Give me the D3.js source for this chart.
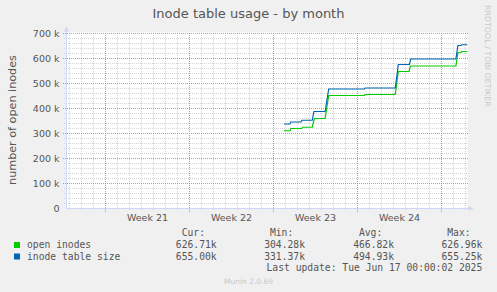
<!DOCTYPE html>
<html>
<head>
<meta charset="utf-8">
<style>
body { margin: 0; background: #f0f0f0; }
text { font-family: "DejaVu Sans", sans-serif; fill: #555; }
.mono { font-family: "DejaVu Sans Mono", monospace; font-size: 9.7px; }
.minor { stroke: #d6d6d6; stroke-dasharray: 1,1; }
.major { stroke: #ec5e5e; stroke-opacity: 0.75; stroke-dasharray: 1,1; }
</style>
</head>
<body>
<div id="vis"></div>
<script src="https://cdn.jsdelivr.net/npm/d3@7"></script>
<script>
// series: [day offset from left edge of graph, value in thousands]
var openInodes = [
  [18.12, 311], [18.62, 311], [18.70, 320], [19.60, 320], [19.68, 325],
  [20.48, 325], [20.65, 360], [21.55, 360], [21.85, 452], [24.83, 452],
  [24.88, 456], [27.40, 456], [27.65, 548], [28.55, 548], [28.65, 570],
  [32.45, 570], [32.62, 624], [32.88, 624], [32.93, 628], [33.40, 628]
];
var inodeTableSize = [
  [18.12, 338], [18.62, 338], [18.70, 346], [19.55, 346], [19.62, 353],
  [20.48, 353], [20.62, 388], [21.55, 388], [21.85, 478], [24.83, 478],
  [24.88, 482], [27.40, 482], [27.65, 576], [28.58, 576], [28.68, 598],
  [32.45, 598], [32.62, 652], [32.88, 652], [32.93, 655], [33.40, 655]
];
var weekNumbers = [21, 22, 23, 24];
var weekStarts = [3.25, 10.25, 17.25, 24.25, 31.25];
var yTicks = [0, 100, 200, 300, 400, 500, 600, 700];
var yTickLabels = ["0", "100 k", "200 k", "300 k", "400 k", "500 k", "600 k", "700 k"];
var seriesNames = ["open inodes", "inode table size"];
var seriesColors = ["#00cc00", "#0066b3"];
var curValues = ["626.71k", "655.00k"];
var minValues = ["304.28k", "331.37k"];
var avgValues = ["466.82k", "494.93k"];
var maxValues = ["626.96k", "655.25k"];

var width = 497, height = 292;

var svg = d3.select("#vis").append("svg")
    .attr("width", width)
    .attr("height", height);

svg.append("rect").attr("width", width).attr("height", height).attr("fill", "#f0f0f0");

var x = d3.scaleLinear().domain([0, 33.4167]).range([66.5, 467.5]);
var y = d3.scaleLinear().domain([0, 700]).range([208.5, 33.5]);
// pixel-centre helper so 1px dots sit on whole pixels
function px(v) { return Math.floor(v) + 0.5; }

// canvas
svg.append("rect")
    .attr("x", x(0)).attr("y", y(700) - 1)
    .attr("width", x(33.4167) - x(0)).attr("height", y(0) - y(700) + 1)
    .attr("fill", "#ffffff");

// minor grid (skip places where a major line goes)
var minorDays = d3.range(0.25, 33.4, 1).filter(function(d) { return (d - 3.25) % 7 !== 0; });
var minorY = d3.range(20, 701, 20).filter(function(d) { return d % 100 !== 0; });
svg.selectAll(".vminor").data(minorDays).enter().append("line")
    .attr("class", "minor")
    .attr("x1", function(d) { return px(x(d)); }).attr("x2", function(d) { return px(x(d)); })
    .attr("y1", 33).attr("y2", 211);
svg.selectAll(".hminor").data(minorY).enter().append("line")
    .attr("class", "minor")
    .attr("x1", 64).attr("x2", 468)
    .attr("y1", function(d) { return px(y(d)); }).attr("y2", function(d) { return px(y(d)); });

// major grid
svg.selectAll(".vmajor").data(weekStarts).enter().append("line")
    .attr("class", "major")
    .attr("x1", function(d) { return px(x(d)); }).attr("x2", function(d) { return px(x(d)); })
    .attr("y1", 33).attr("y2", 212);
svg.selectAll(".hmajor").data(yTicks.slice(1)).enter().append("line")
    .attr("class", "major")
    .attr("x1", 63).attr("x2", 468)
    .attr("y1", function(d) { return px(y(d)); }).attr("y2", function(d) { return px(y(d)); });

// axes
svg.append("line").attr("x1", x(0)).attr("x2", x(33.4167) + 1)
    .attr("y1", y(0)).attr("y2", y(0)).attr("stroke", "#cfd6f8");
svg.append("line").attr("x1", x(0)).attr("x2", x(0))
    .attr("y1", y(0)).attr("y2", y(700) - 3).attr("stroke", "#cfd6f8");
svg.append("path")
    .attr("d", "M" + (x(0) - 2.5) + "," + (y(700) - 2) + "L" + x(0) + "," + (y(700) - 7) + "L" + (x(0) + 2.5) + "," + (y(700) - 2) + "Z")
    .attr("fill", "#cfd6f8");
svg.append("path")
    .attr("d", "M" + (x(33.4167) + 1) + "," + (y(0) - 2.5) + "L" + (x(33.4167) + 6) + "," + y(0) + "L" + (x(33.4167) + 1) + "," + (y(0) + 2.5) + "Z")
    .attr("fill", "#cfd6f8");

// y tick labels
svg.selectAll(".ylab").data(yTicks).enter().append("text")
    .attr("x", 59.5)
    .attr("y", function(d) { return y(d) + 3.5; })
    .attr("text-anchor", "end")
    .style("font-size", "9.5px")
    .text(function(d, i) { return yTickLabels[i]; });

// week labels
svg.selectAll(".xlab").data(weekNumbers).enter().append("text")
    .attr("x", function(d, i) { return x(weekStarts[i] + 3.5); })
    .attr("y", 221)
    .attr("text-anchor", "middle")
    .style("font-size", "9.5px")
    .text(function(d) { return "Week " + d; });

// lines
var line = d3.line()
    .x(function(d) { return x(d[0]); })
    .y(function(d) { return y(d[1]); });
[openInodes, inodeTableSize].forEach(function(s, i) {
  svg.append("path")
      .datum(s)
      .attr("d", line)
      .attr("fill", "none")
      .attr("stroke", seriesColors[i])
      .attr("stroke-width", 1.2);
});

// title and labels
svg.append("text").attr("x", 248.5).attr("y", 18).attr("text-anchor", "middle")
    .style("font-size", "13px").text("Inode table usage - by month");
svg.append("text").attr("transform", "translate(15.5,120) rotate(-90)")
    .attr("text-anchor", "middle").style("font-size", "11.2px")
    .text("number of open inodes");
svg.append("text").attr("transform", "translate(485,5) rotate(90)")
    .style("font-size", "7.9px").style("fill", "#c8c8c8")
    .text("RRDTOOL / TOBI OETIKER");

// legend
var colEnds = [216.7, 305, 394, 482.3];
var colHeads = ["Cur:", "Min:", "Avg:", "Max:"];
var colVals = [curValues, minValues, avgValues, maxValues];
colHeads.forEach(function(h, c) {
  svg.append("text").attr("class", "mono").attr("x", colEnds[c] - 11.7).attr("y", 236)
      .attr("text-anchor", "end").text(h);
});
seriesNames.forEach(function(name, i) {
  var by = 248 + i * 11.5;
  svg.append("rect").attr("x", 14).attr("y", by - 6).attr("width", 6).attr("height", 6)
      .attr("fill", seriesColors[i]);
  svg.append("text").attr("class", "mono").attr("x", 27).attr("y", by).text(name);
  colVals.forEach(function(vals, c) {
    svg.append("text").attr("class", "mono").attr("x", colEnds[c]).attr("y", by)
        .attr("text-anchor", "end").text(vals[i]);
  });
});
svg.append("text").attr("class", "mono").attr("x", 482.3).attr("y", 271)
    .attr("text-anchor", "end").text("Last update: Tue Jun 17 00:00:02 2025");
svg.append("text").attr("x", 248.5).attr("y", 283.5).attr("text-anchor", "middle")
    .style("font-size", "7.5px").style("fill", "#c8c8c8").text("Munin 2.0.69");
</script>
</body>
</html>
